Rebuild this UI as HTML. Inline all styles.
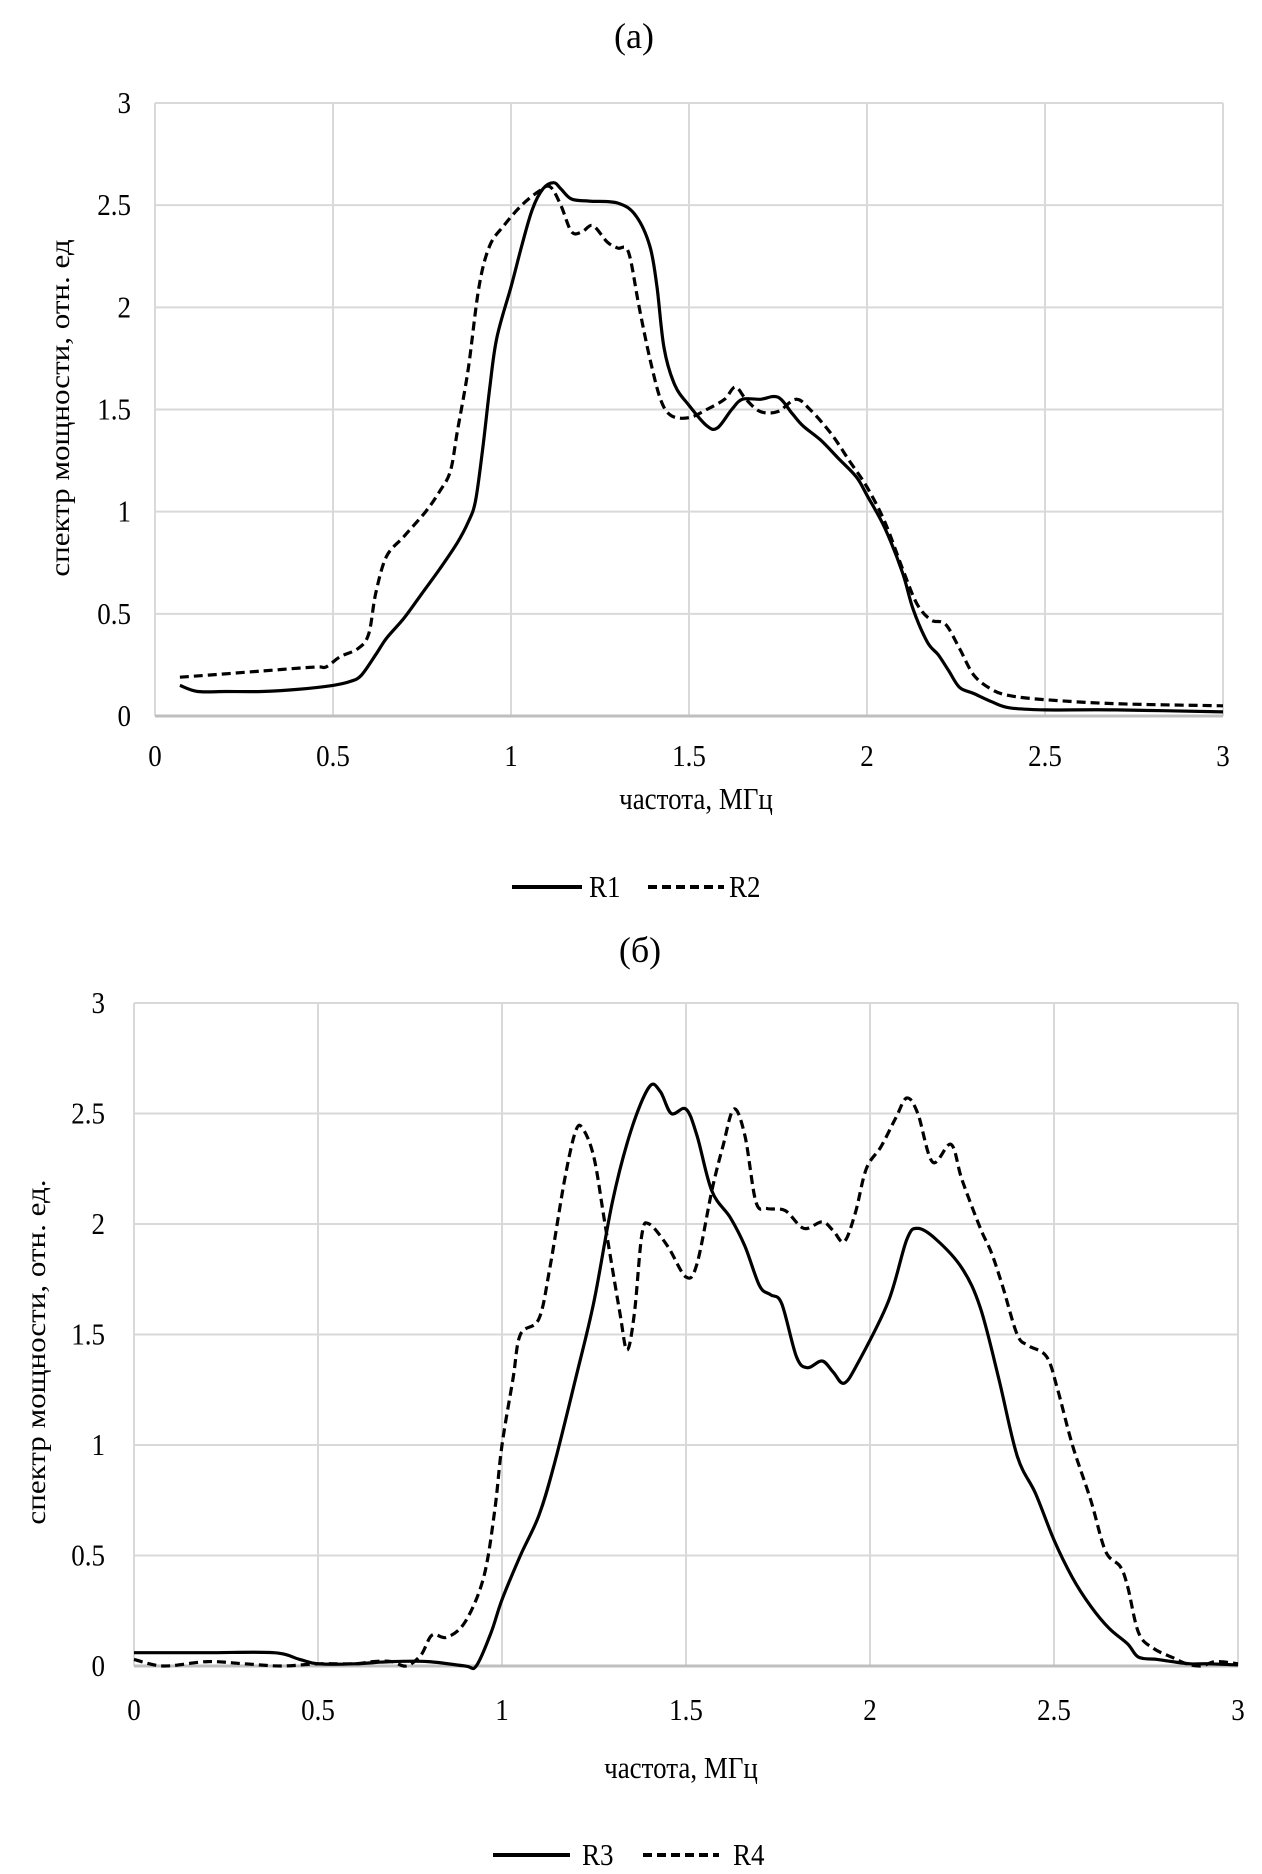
<!DOCTYPE html>
<html><head><meta charset="utf-8"><style>
html,body{margin:0;padding:0;background:#fff;}
svg{display:block;font-family:"Liberation Serif","DejaVu Serif",serif;}
</style></head><body>
<svg id="c" width="1262" height="1874" viewBox="0 0 1262 1874" xmlns="http://www.w3.org/2000/svg">
<text x="634" y="48" font-size="36" text-anchor="middle">(a)</text>
<text x="640" y="962" font-size="36" text-anchor="middle">(б)</text>
<text transform="translate(696,809) scale(1,1.15)" font-size="27" text-anchor="middle">частота, МГц</text>
<text transform="translate(681,1778) scale(1,1.15)" font-size="27" text-anchor="middle">частота, МГц</text>
<text transform="translate(69,408) rotate(-90) scale(1.15,1)" font-size="27" text-anchor="middle">спектр мощности, отн. ед</text>
<text transform="translate(45,1352) rotate(-90) scale(1.15,1)" font-size="27" text-anchor="middle">спектр мощности, отн. ед.</text>
<g>
<line x1="512" y1="887" x2="582" y2="887" stroke="#000" stroke-width="4"/>
<text transform="translate(589,897) scale(1,1.12)" font-size="27">R1</text>
<line x1="648" y1="887" x2="724" y2="887" stroke="#000" stroke-width="4" stroke-dasharray="9,5"/>
<text transform="translate(729,897) scale(1,1.12)" font-size="27">R2</text>
</g>
<g>
<line x1="493" y1="1855" x2="570" y2="1855" stroke="#000" stroke-width="4"/>
<text transform="translate(582,1865) scale(1,1.12)" font-size="27">R3</text>
<line x1="643" y1="1855" x2="719" y2="1855" stroke="#000" stroke-width="4" stroke-dasharray="9,5"/>
<text transform="translate(733,1865) scale(1,1.12)" font-size="27">R4</text>
</g>
</svg>
<script>
const xTicks = [0, 0.5, 1, 1.5, 2, 2.5, 3];
const yTicks = [0, 0.5, 1, 1.5, 2, 2.5, 3];
const r1X = [0.07,0.12,0.2,0.3,0.4,0.5,0.55,0.58,0.62,0.65,0.7,0.75,0.8,0.85,0.88,0.9,0.92,0.94,0.96,1.0,1.03,1.06,1.09,1.12,1.14,1.17,1.22,1.3,1.35,1.39,1.41,1.43,1.46,1.5,1.55,1.58,1.62,1.65,1.7,1.75,1.79,1.82,1.87,1.92,1.97,2.0,2.05,2.1,2.13,2.17,2.2,2.23,2.26,2.3,2.35,2.4,2.5,2.7,3.0];
const r1Y = [0.15,0.12,0.12,0.12,0.13,0.15,0.17,0.2,0.3,0.38,0.48,0.6,0.72,0.85,0.95,1.05,1.3,1.6,1.85,2.1,2.3,2.48,2.58,2.61,2.58,2.53,2.52,2.51,2.45,2.3,2.1,1.8,1.62,1.52,1.42,1.41,1.5,1.55,1.55,1.56,1.48,1.42,1.35,1.26,1.17,1.08,0.92,0.7,0.52,0.36,0.3,0.22,0.14,0.11,0.07,0.04,0.03,0.03,0.02];
const r2X = [0.07,0.15,0.3,0.45,0.48,0.52,0.57,0.6,0.62,0.65,0.7,0.76,0.8,0.83,0.85,0.88,0.91,0.94,0.98,1.03,1.08,1.11,1.14,1.17,1.2,1.23,1.27,1.3,1.33,1.36,1.39,1.42,1.45,1.5,1.55,1.6,1.63,1.66,1.7,1.75,1.8,1.84,1.9,1.95,2.0,2.05,2.1,2.14,2.18,2.22,2.26,2.3,2.35,2.4,2.5,2.7,3.0];
const r2Y = [0.19,0.2,0.22,0.24,0.24,0.29,0.33,0.4,0.6,0.78,0.88,1.0,1.1,1.2,1.4,1.7,2.1,2.3,2.4,2.5,2.57,2.59,2.5,2.37,2.37,2.4,2.32,2.29,2.27,2.0,1.75,1.55,1.47,1.46,1.5,1.55,1.61,1.55,1.49,1.49,1.55,1.5,1.38,1.25,1.12,0.95,0.72,0.55,0.47,0.45,0.33,0.2,0.13,0.1,0.08,0.06,0.05];
const r3X = [0,0.2,0.38,0.45,0.5,0.6,0.7,0.8,0.9,0.93,0.97,1.0,1.05,1.1,1.14,1.2,1.25,1.3,1.35,1.4,1.43,1.46,1.5,1.53,1.57,1.62,1.66,1.7,1.73,1.76,1.8,1.83,1.87,1.9,1.93,1.97,2.05,2.1,2.13,2.18,2.25,2.3,2.35,2.4,2.45,2.5,2.55,2.6,2.65,2.7,2.73,2.78,2.82,2.87,2.92,3.0];
const r3Y = [0.06,0.06,0.06,0.03,0.01,0.01,0.02,0.02,0.0,0.0,0.15,0.3,0.5,0.68,0.9,1.3,1.65,2.1,2.42,2.62,2.6,2.5,2.52,2.4,2.15,2.03,1.9,1.72,1.68,1.64,1.4,1.35,1.38,1.33,1.28,1.38,1.65,1.93,1.98,1.93,1.8,1.62,1.3,0.95,0.78,0.57,0.4,0.27,0.17,0.1,0.04,0.03,0.02,0.01,0.01,0.005];
const r4X = [0,0.08,0.2,0.3,0.4,0.5,0.6,0.65,0.7,0.74,0.78,0.81,0.85,0.9,0.95,0.98,1.0,1.03,1.05,1.1,1.13,1.17,1.2,1.22,1.25,1.28,1.32,1.34,1.36,1.38,1.4,1.45,1.5,1.53,1.57,1.6,1.63,1.66,1.69,1.72,1.77,1.82,1.87,1.9,1.93,1.96,1.99,2.03,2.07,2.1,2.13,2.17,2.22,2.25,2.3,2.33,2.36,2.4,2.43,2.48,2.51,2.55,2.6,2.64,2.68,2.7,2.73,2.77,2.82,2.86,2.9,2.94,3.0];
const r4Y = [0.03,0.0,0.02,0.01,0.0,0.01,0.01,0.02,0.02,0.0,0.05,0.14,0.13,0.2,0.4,0.7,1.0,1.3,1.5,1.57,1.8,2.2,2.42,2.43,2.3,2.0,1.6,1.43,1.6,1.95,2.0,1.9,1.76,1.82,2.15,2.35,2.52,2.4,2.1,2.07,2.06,1.98,2.01,1.97,1.92,2.05,2.25,2.35,2.48,2.57,2.5,2.28,2.36,2.2,1.98,1.87,1.72,1.5,1.45,1.4,1.25,1.0,0.75,0.52,0.45,0.36,0.15,0.08,0.04,0.01,0.0,0.02,0.01];

const NS = "http://www.w3.org/2000/svg";
const svg = document.getElementById('c');
function mk(tag, attrs){ const e=document.createElementNS(NS,tag); for(const k in attrs) e.setAttribute(k,attrs[k]); return e; }

function smooth(pts){
  let d = "M" + pts[0][0].toFixed(1) + "," + pts[0][1].toFixed(1);
  for(let i=0;i<pts.length-1;i++){
    const p0=pts[Math.max(0,i-1)], p1=pts[i], p2=pts[i+1], p3=pts[Math.min(pts.length-1,i+2)];
    const c1x=p1[0]+(p2[0]-p0[0])/6, c1y=p1[1]+(p2[1]-p0[1])/6;
    const c2x=p2[0]-(p3[0]-p1[0])/6, c2y=p2[1]-(p3[1]-p1[1])/6;
    d += " C"+c1x.toFixed(1)+","+c1y.toFixed(1)+" "+c2x.toFixed(1)+","+c2y.toFixed(1)+" "+p2[0].toFixed(1)+","+p2[1].toFixed(1);
  }
  return d;
}

function chart(id, L, R, T, B, yLabRight, xLabY, series){
  const g = mk('g',{});
  
  
  svg.appendChild(g);
  const sx = v => L + (v/3)*(R-L);
  const sy = v => B - (v/3)*(B-T);
  xTicks.forEach(t => {
    const ln = mk('line',{x1:sx(t),x2:sx(t),y1:T,y2:B,stroke:'#d9d9d9','stroke-width':2});
    
    
    g.appendChild(ln);
    const tx = mk('text',{transform:'translate('+sx(t)+','+xLabY+') scale(1,1.12)','font-size':27,'text-anchor':'middle'});
    tx.textContent = String(t);
    
    
    g.appendChild(tx);
  });
  yTicks.forEach(t => {
    const ln = mk('line',{x1:L,x2:R,y1:sy(t),y2:sy(t),stroke: t===0?'#bfbfbf':'#d9d9d9','stroke-width':t===0?3:2});
    
    
    g.appendChild(ln);
    const tx = mk('text',{transform:'translate('+yLabRight+','+(sy(t)+10)+') scale(1,1.12)','font-size':27,'text-anchor':'end'});
    tx.textContent = String(t);
    
    
    g.appendChild(tx);
  });
  series.forEach(s => {
    const pts = s.x.map((v,i)=>[sx(v), sy(s.y[i])]);
    const attrs = {d:smooth(pts),fill:'none',stroke:'#000','stroke-width':3.2,'stroke-linejoin':'round'};
    if(s.dash) attrs['stroke-dasharray']='9,5';
    const p = mk('path',attrs);
    
    
    g.appendChild(p);
  });
}

chart('a', 155, 1223, 103, 716, 131, 766, [
  {name:'r1', x:r1X, y:r1Y, dash:false},
  {name:'r2', x:r2X, y:r2Y, dash:true}
]);
chart('b', 134, 1238, 1003, 1666, 105, 1720, [
  {name:'r3', x:r3X, y:r3Y, dash:false},
  {name:'r4', x:r4X, y:r4Y, dash:true}
]);
</script>
</body></html>
